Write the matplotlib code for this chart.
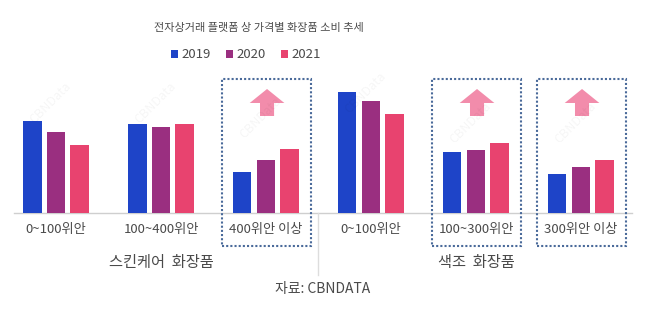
import numpy as np
import matplotlib
matplotlib.use("Agg")
import matplotlib.pyplot as plt
from matplotlib.patches import Rectangle, Polygon

plt.rcParams['font.family'] = ['Noto Sans CJK KR', 'DejaVu Sans']

# price bands (per platform), two cosmetics types
tick_labels = ['0~100위안', '100~400위안', '400위안 이상',
               '0~100위안', '100~300위안', '300위안 이상']
group_labels = ['스킨케어  화장품', '색조  화장품']
years = ['2019', '2020', '2021']
v2019 = [92, 89, 41, 121, 61, 39]
v2020 = [81, 86, 53, 112, 63, 46]
v2021 = [68, 89, 64, 99, 70, 53]
rising = [2, 4, 5]   # bands with growing share

colors = ['#1e44c8', '#9a2f80', '#e8436f']
arrow_color = '#f28cab'
text_color = '#4a4a4a'

W, H = 652, 321
fig = plt.figure(figsize=(W / 100, H / 100), dpi=100)

# axes placed in pixel terms: baseline at y=213, top at y=79
x0_px, x1_px = 14, 632
base_px, top_px = 213, 79
ax = fig.add_axes([x0_px / W, (H - base_px) / H, (x1_px - x0_px) / W, (base_px - top_px) / H])
ax.set_xlim(-0.4, 5.486)
ax.set_ylim(0, base_px - top_px)
ax.axis('off')

x = np.arange(len(tick_labels))
bw = 0.172
step = 0.224
for i, (vals, c) in enumerate(zip([v2019, v2020, v2021], colors)):
    ax.bar(x + (i - 1) * step, vals, width=bw, color=c, label=years[i], zorder=3)

# baseline
ax.plot([-0.4, 5.486], [0, 0], color='#cfcfcf', lw=1.0, clip_on=False, zorder=2)

# dotted boxes and up arrows over the rising bands
for k in rising:
    ax.add_patch(Rectangle((k - 0.42, -33), 0.85, 167, fill=False,
                           ls=(0, (1, 1)), lw=1.5, ec='#4a6a9a', clip_on=False, zorder=4))
    cx = k + 0.01
    hw, sw = 0.165, 0.067
    pts = [(cx, 124), (cx + hw, 110), (cx + sw, 110), (cx + sw, 97),
           (cx - sw, 97), (cx - sw, 110), (cx - hw, 110)]
    ax.add_patch(Polygon(pts, closed=True, fc=arrow_color, ec='none', zorder=3))

# category tick labels
for xi, lab in zip(x, tick_labels):
    ax.text(xi, -16, lab, ha='center', va='center', fontsize=9.5, color=text_color)

# group labels and divider
ax.text(1, -50, group_labels[0], ha='center', va='center', fontsize=11, color=text_color)
ax.text(4, -50, group_labels[1], ha='center', va='center', fontsize=11, color=text_color)
ax.plot([2.5, 2.5], [0, -62], color='#dddddd', lw=1.0, clip_on=False)

# faint watermark
for k, yy in zip(x, [110, 110, 95, 120, 90, 90]):
    ax.text(k - 0.05, yy, 'CBNData', rotation=45, ha='center', va='center',
            fontsize=9, color='#000000', alpha=0.04, zorder=5)

fig.text(259 / W, 1 - 28 / H, '전자상거래 플랫폼 상 가격별 화장품 소비 추세',
         ha='center', va='center', fontsize=8, color=text_color)
fig.legend(loc='center', bbox_to_anchor=(246 / W, 1 - 55 / H), ncol=3, frameon=False,
           fontsize=9.5, handlelength=0.55, handleheight=0.55, handletextpad=0.3,
           columnspacing=1.1, labelcolor=text_color)
fig.text(323 / W, 1 - 289 / H, '자료: CBNDATA', ha='center', va='center',
         fontsize=10, color=text_color)

fig.savefig('out.png', dpi=100)
